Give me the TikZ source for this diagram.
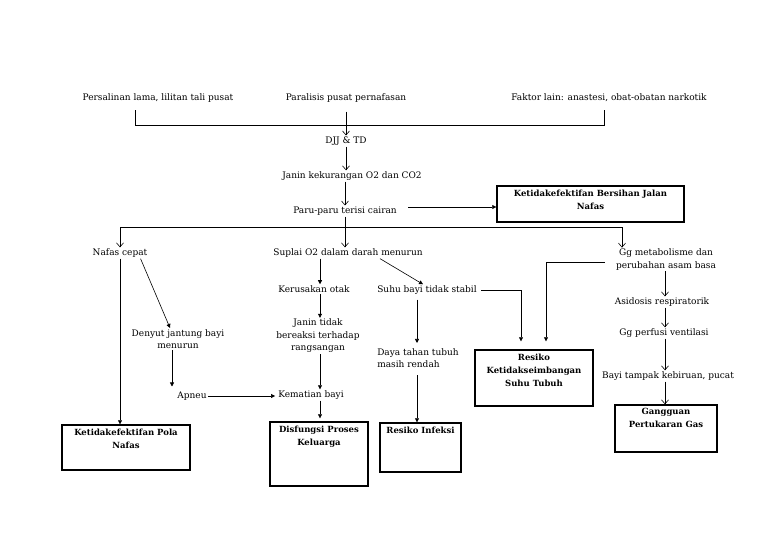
\documentclass[tikz,border=0pt]{standalone}
\usepackage{fontspec}
\setmainfont{DejaVu Serif}
\usetikzlibrary{arrows.meta}

\tikzset{
    txt/.style = {font=\fontsize{9}{12.5}\selectfont, align=center, inner sep=1pt},
    boxtxt/.style = {font=\bfseries\fontsize{8.5}{13}\selectfont, align=center, inner sep=1pt, anchor=north},
    diagbox/.style = {draw, line width=1.4pt},
    opn/.style = {-{Straight Barb[length=4pt,width=7pt]}},
    fil/.style = {-{Triangle[length=4pt,width=4pt]}}
}

\begin{document}
    \begin{tikzpicture}[x=1pt, y=-1pt, line width=0.6pt]
        \useasboundingbox (0,0) rectangle (768,543);
        \node[txt] (per) at (158,98) {Persalinan lama, lilitan tali pusat};
        \node[txt] (para) at (346,98) {Paralisis pusat pernafasan};
        \node[txt] (fak) at (609,98) {Faktor lain: anastesi, obat-obatan narkotik};
        \node[txt] (djj) at (346,141) {DJJ \& TD};
        \node[txt] (jan) at (352,176) {Janin kekurangan O2 dan CO2};
        \node[txt] (paru) at (345,211) {Paru-paru terisi cairan};
        \node[txt] (naf) at (120,253) {Nafas cepat};
        \node[txt] (sup) at (348,253) {Suplai O2 dalam darah menurun};
        \node[txt] (gg) at (666,259.5) {Gg metabolisme dan\\perubahan asam basa};
        \node[txt] (rus) at (314,289) {Kerusakan otak};
        \node[txt] (suhu) at (427,290) {Suhu bayi tidak stabil};
        \node[txt] (den) at (178,339) {Denyut jantung bayi\\menurun};
        \node[txt] (jtd) at (318,336) {Janin tidak\\bereaksi terhadap\\rangsangan};
        \node[txt] (apn) at (192,396) {Apneu};
        \node[txt] (mati) at (311,395) {Kematian bayi};
        \node[txt, align=left] (daya) at (418,358) {Daya tahan tubuh\\masih rendah};
        \node[txt] (asi) at (662,302) {Asidosis respiratorik};
        \node[txt] (perf) at (664,333) {Gg perfusi ventilasi};
        \node[txt] (biru) at (668,376) {Bayi tampak kebiruan, pucat};

        \node[diagbox, minimum width=187, minimum height=36] (kbj) at (590.5,204) {};
        \node[boxtxt] at ([yshift=-3pt]kbj.north) {Ketidakefektifan Bersihan Jalan\\Nafas};
        \node[diagbox, minimum width=128, minimum height=45] (pola) at (126,447.5) {};
        \node[boxtxt] at ([yshift=-3pt]pola.north) {Ketidakefektifan Pola\\Nafas};
        \node[diagbox, minimum width=98, minimum height=64] (dis) at (319,454) {};
        \node[boxtxt] at ([yshift=-3pt]dis.north) {Disfungsi Proses\\Keluarga};
        \node[diagbox, minimum width=81, minimum height=49] (inf) at (420.5,447.5) {};
        \node[boxtxt] at ([yshift=-3pt]inf.north) {Resiko Infeksi};
        \node[diagbox, minimum width=118, minimum height=56] (rks) at (534,378) {};
        \node[boxtxt] at ([yshift=-3pt]rks.north) {Resiko\\Ketidakseimbangan\\Suhu Tubuh};
        \node[diagbox, minimum width=102, minimum height=47] (gang) at (666,428.5) {};
        \node[boxtxt] at ([yshift=-3pt]gang.north) {Gangguan\\Pertukaran Gas};

        \coordinate (brL) at (135,110);
        \coordinate (brR) at (604,110);
        \coordinate (cab) at (345,227);
        \coordinate (ggin) at (622,227);
        \coordinate (kx) at (320,0);
        \coordinate (dx) at (417,0);
        \coordinate (rx) at (665,0);

        \draw (brL) -- ++(0,15) -| (brR);
        \draw[opn] ([yshift=-8pt]para.south) -- (djj.north);
        \draw[opn] (djj.south) -- (djj.south |- jan.north);
        \draw[opn] (paru.north |- jan.south) -- (paru.north);
        \draw[fil] ([shift={(10pt,4pt)}]paru.east) -- ([yshift=-3pt]kbj.west);

        \draw (paru.south) -- (cab);
        \draw (cab -| naf) -- (ggin);
        \draw[opn] (cab -| naf) -- (naf.north);
        \draw[opn] (cab) -- (cab |- sup.north);
        \draw[opn] (ggin) -- (ggin |- gg.north);

        \draw[fil] (naf.south) -- (naf.south |- pola.north);
        \draw[fil] ([xshift=-8pt]naf.south east) -- ([xshift=-8pt]den.north);
        \draw[fil, shorten >=4pt] ([xshift=-6pt]den.south) -- ([xshift=-6pt]den.south |- apn.north);
        \draw[fil, shorten >=2pt] (apn.east) -- (apn.east -| mati.west);

        \draw[fil] (kx |- sup.south) -- (kx |- rus.north);
        \draw[fil] (kx |- rus.south) -- (kx |- jtd.north);
        \draw[fil] (kx |- jtd.south) -- (kx |- mati.north);
        \draw[fil, shorten >=3pt] (kx |- mati.south) -- (kx |- dis.north);

        \draw[fil] ([xshift=32pt]sup.south) -- ([xshift=-4pt]suhu.north);
        \draw[fil, shorten >=8pt] ([xshift=3pt]suhu.east) -| ([xshift=-13pt]rks.north);
        \draw[fil, shorten >=8pt] ([shift={(-10pt,-3pt)}]gg.west) -| ([xshift=12pt]rks.north);
        \draw[fil, shorten <=4pt, shorten >=4pt] (dx |- suhu.south) -- (dx |- daya.north);
        \draw[fil, shorten <=6pt] (dx |- daya.south) -- (dx |- inf.north);

        \draw[opn] (rx |- gg.south) -- (rx |- asi.north);
        \draw[opn] (rx |- asi.south) -- (rx |- perf.north);
        \draw[opn] (rx |- perf.south) -- (rx |- biru.north);
        \draw[opn] (rx |- biru.south) -- (rx |- gang.north);
    \end{tikzpicture}
\end{document}
